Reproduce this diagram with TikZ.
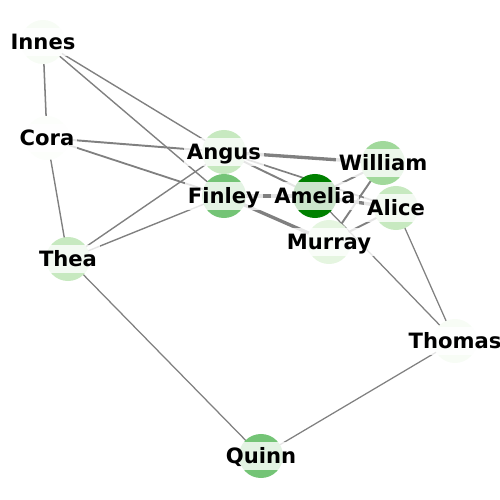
\documentclass[tikz,border=0pt]{standalone}
\usepackage{fontspec}
\setmainfont{DejaVu Sans}
\definecolor{g0}{HTML}{F7FCF5}
\definecolor{gc}{HTML}{FCFEFB}
\definecolor{g1}{HTML}{E5F5E0}
\definecolor{g2}{HTML}{C7E9C0}
\definecolor{g3}{HTML}{A1D99B}
\definecolor{g4}{HTML}{74C476}
\definecolor{g5}{HTML}{008000}
\definecolor{edgegray}{HTML}{808080}
\begin{document}
\begin{tikzpicture}[x=0.72pt,y=-0.72pt,
  vert/.style={circle, minimum size=31.7pt, inner sep=0pt, draw=none, fill=#1},
  lab/.style={fill=white, fill opacity=0.8, text opacity=1, font=\bfseries\fontsize{15.2}{17}\selectfont, inner xsep=2.2pt, inner ysep=3pt, text height=12.4pt, text depth=1.4pt},
  link/.style={draw=edgegray, line width=#1}]
\useasboundingbox (0,0) rectangle (500,500);
% positions
\coordinate (innes) at (43,42);
\coordinate (cora) at (47,138);
\coordinate (angus) at (224,152);
\coordinate (finley) at (224,196);
\coordinate (amelia) at (315,196);
\coordinate (william) at (383,163);
\coordinate (alice) at (396,208);
\coordinate (murray) at (329,242);
\coordinate (thea) at (68,259);
\coordinate (thomas) at (455,341);
\coordinate (quinn) at (261,456);
% edges
\draw[link=1.1pt] (innes) -- (cora);
\draw[link=1pt] (innes) -- (angus);
\draw[link=1pt] (innes) -- (finley);
\draw[link=1.4pt] (cora) -- (angus);
\draw[link=1.3pt] (cora) -- (finley);
\draw[link=1pt] (cora) -- (thea);
\draw[link=1pt] (thea) -- (angus);
\draw[link=1pt] (thea) -- (finley);
\draw[link=0.9pt] (thea) -- (quinn);
\draw[link=0.9pt] (quinn) -- (thomas);
\draw[link=0.9pt] (thomas) -- (alice);
\draw[link=0.9pt] (thomas) -- (amelia);
\draw[link=2.4pt] (angus) -- (william);
\draw[link=1.4pt] (angus) -- (amelia);
\draw[link=1.2pt] (angus) -- (alice);
\draw[link=3.2pt] (finley) -- (amelia);
\draw[link=2.4pt] (finley) -- (murray);
\draw[link=1.4pt] (amelia) -- (william);
\draw[link=2.4pt] (amelia) -- (alice);
\draw[link=1.4pt] (william) -- (murray);
\draw[link=1.4pt] (murray) -- (alice);
% vertices
\node[vert=g0] (vinnes) at (innes) {};
\node[vert=gc] (vcora) at (cora) {};
\node[vert=g2] (vangus) at (angus) {};
\node[vert=g4] (vfinley) at (finley) {};
\node[vert=g5] (vamelia) at (amelia) {};
\node[vert=g3] (vwilliam) at (william) {};
\node[vert=g2] (valice) at (alice) {};
\node[vert=g1] (vmurray) at (murray) {};
\node[vert=g2] (vthea) at (thea) {};
\node[vert=g0] (vthomas) at (thomas) {};
\node[vert=g4] (vquinn) at (quinn) {};
% labels
\node[lab] (linnes) at (innes) {Innes};
\node[lab] (lcora) at (cora) {Cora};
\node[lab] (langus) at (angus) {Angus};
\node[lab] (lfinley) at (finley) {Finley};
\node[lab] (lamelia) at (amelia) {Amelia};
\node[lab] (lwilliam) at (william) {William};
\node[lab] (lalice) at (alice) {Alice};
\node[lab] (lmurray) at (murray) {Murray};
\node[lab] (lthea) at (thea) {Thea};
\node[lab, inner xsep=0.6pt] (lthomas) at (thomas) {Thomas};
\node[lab] (lquinn) at (quinn) {Quinn};
\end{tikzpicture}
\end{document}
